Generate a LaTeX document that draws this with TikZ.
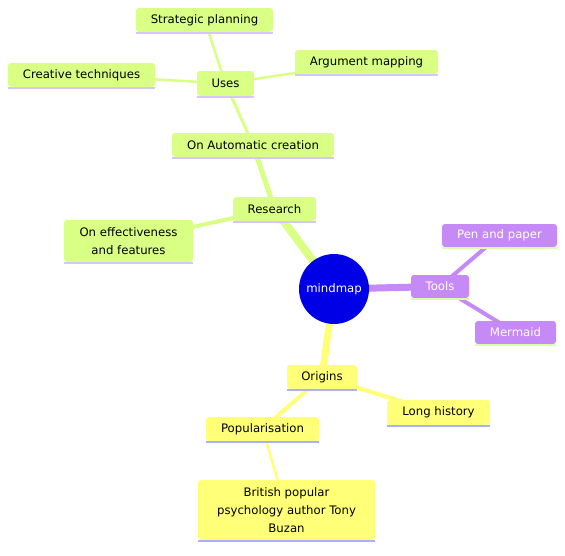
\documentclass[tikz,border=0pt]{standalone}
\usepackage{fontspec}
\setmainfont{DejaVu Sans}
\usetikzlibrary{backgrounds}
\definecolor{gfill}{HTML}{D9FF85}
\definecolor{yfill}{HTML}{FFFF78}
\definecolor{pfill}{HTML}{C58AF5}
\definecolor{gline}{HTML}{D5C6FB}
\definecolor{yline}{HTML}{AEAEFF}
\definecolor{pline}{HTML}{D8FFAA}
\definecolor{rootc}{HTML}{0000E6}
\tikzset{
  box/.style={rectangle, rounded corners=3pt, inner sep=0pt, align=center,
    font=\fontsize{11.7}{18}\selectfont},
  gbox/.style={box, fill=gfill, text=black},
  ybox/.style={box, fill=yfill, text=black},
  pbox/.style={box, fill=pfill, text=white},
  gedge/.style={draw=gfill},
  yedge/.style={draw=yfill},
  pedge/.style={draw=pfill},
}
\newcommand{\ulinebox}[2]{\draw[#1, line width=2pt] ([yshift=-1pt,xshift=0.5pt]#2.south west) -- ([yshift=-1pt,xshift=-0.5pt]#2.south east);}
\begin{document}
\begin{tikzpicture}[x=1pt,y=-1pt]
\useasboundingbox (0,0) rectangle (565,555);
% nodes
\node[circle, fill=rootc, minimum size=70pt, inner sep=0pt, text=white, font=\fontsize{11.7}{14}\selectfont] (root) at (334,289) {mindmap};
\node[gbox, minimum width=83pt, minimum height=24pt] (res) at (274.5,209) {Research};
\node[gbox, minimum width=162pt, minimum height=24pt] (auto) at (253,145) {On Automatic creation};
\node[gbox, minimum width=57pt, minimum height=25pt] (uses) at (225.5,83.5) {Uses};
\node[gbox, minimum width=137pt, minimum height=24pt] (strat) at (204.5,20) {Strategic planning};
\node[gbox, minimum width=147pt, minimum height=24pt] (creat) at (81.5,75) {Creative techniques};
\node[gbox, minimum width=143pt, minimum height=24pt] (arg) at (366.5,62) {Argument mapping};
\node[gbox, minimum width=129pt, minimum height=42pt] (eff) at (128.5,241) {On effectiveness\\and features};
\node[pbox, minimum width=58pt, minimum height=23pt] (tools) at (440,286.5) {Tools};
\node[pbox, minimum width=115pt, minimum height=23pt] (pen) at (499.5,235.5) {Pen and paper};
\node[pbox, minimum width=81pt, minimum height=23pt] (merm) at (515.5,332.5) {Mermaid};
\node[ybox, minimum width=70pt, minimum height=24pt] (orig) at (322,377) {Origins};
\node[ybox, minimum width=103pt, minimum height=25pt] (long) at (438.5,412.5) {Long history};
\node[ybox, minimum width=113pt, minimum height=24pt] (pop) at (262.5,429) {Popularisation};
\node[ybox, minimum width=177pt, minimum height=60pt] (buz) at (286.5,510) {British popular\\psychology author Tony\\Buzan};
% underlines
\ulinebox{gline}{res}
\ulinebox{gline}{auto}
\ulinebox{gline}{uses}
\ulinebox{gline}{strat}
\ulinebox{gline}{creat}
\ulinebox{gline}{arg}
\ulinebox{gline}{eff}
\ulinebox{pline}{tools}
\ulinebox{pline}{pen}
\ulinebox{pline}{merm}
\ulinebox{yline}{orig}
\ulinebox{yline}{long}
\ulinebox{yline}{pop}
\ulinebox{yline}{buz}
% edges (behind nodes)
\begin{scope}[on background layer]
\draw[gedge, line width=8pt] (root.center) -- (res.center);
\draw[pedge, line width=7pt] (root.center) -- (tools.center);
\draw[yedge, line width=7pt] (root.center) -- (orig.center);
\draw[gedge, line width=5pt] (res.center) -- (auto.center);
\draw[gedge, line width=4pt] (res.center) -- (eff.center);
\draw[gedge, line width=3pt] (auto.center) -- (uses.center);
\draw[gedge, line width=2.5pt] (uses.center) -- (strat.center);
\draw[gedge, line width=2.5pt] (uses.center) -- (creat.center);
\draw[gedge, line width=2.5pt] (uses.center) -- (arg.center);
\draw[pedge, line width=4pt] (tools.center) -- (pen.center);
\draw[pedge, line width=4pt] (tools.center) -- (merm.center);
\draw[yedge, line width=4pt] (orig.center) -- (pop.center);
\draw[yedge, line width=4pt] (orig.center) -- (long.center);
\draw[yedge, line width=2.5pt] (pop.center) -- (buz.center);
\end{scope}
\end{tikzpicture}
\end{document}
